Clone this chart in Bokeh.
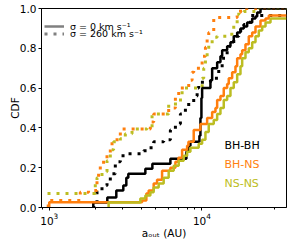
from bokeh.plotting import figure
from bokeh.models import FixedTicker, PrintfTickFormatter, Label, Legend, LegendItem
from bokeh.embed import file_html
from bokeh.resources import INLINE

NAN = float("nan")

# ---- data ----
# sigma = 0 km/s (solid)
bhbh_0_x = [1944, 1944, 2401, 2750, 3056, 3198, 3296, 4261, 4737, 6215, 7914, 8157, 8406, 9630, 9777, 9925,
            10030, 11370, 11667, 12581, 13223, 13567, 14628, 15377, 16162, 17014, 17884, 18797, 19787, 21340,
            22430, 23014, 24190, 35800]
bhbh_0_y = [0, 0.025, 0.05, 0.085, 0.11, 0.15, 0.17, 0.195, 0.22, 0.245, 0.28, 0.31, 0.33, 0.36, 0.45, 0.55,
            0.60, 0.64, 0.70, 0.73, 0.76, 0.79, 0.81, 0.83, 0.86, 0.88, 0.90, 0.91, 0.93, 0.95,
            0.96, 0.98, 1.0, 1.0]

bhns_0_x = [1000, 1000, 4054, 4326, 4479, 4831, 5083, 5483, 6215, 6704, 7015, 7416, 7998, 8157, 8836, 9777,
            10818, 11667, 12262, 12581, 13223, 13899, 14628, 14986, 15776, 16584, 17014, 17884, 18348, 19284,
            20271, 21340, 22430, 24190, 26090, 27420, 35800]
bhns_0_y = [0, 0.027, 0.035, 0.07, 0.085, 0.12, 0.14, 0.185, 0.20, 0.23, 0.25, 0.29, 0.31, 0.33, 0.39, 0.42,
            0.45, 0.48, 0.50, 0.54, 0.56, 0.60, 0.62, 0.65, 0.68, 0.71, 0.75, 0.77, 0.79, 0.82,
            0.86, 0.88, 0.91, 0.94, 0.95, 0.965, 0.965]

nsns_0_x = [2449, 2449, 3951, 4261, 4596, 4831, 5208, 5617, 6058, 6535, 7047, 7598, 7998, 8406, 9528, 10030,
            10544, 11083, 11952, 12581, 13223, 13899, 14628, 15377, 16162, 17014, 17884, 18348, 19284, 20271,
            21340, 22430, 23577, 24820, 26090, 28130, 35800]
nsns_0_y = [0, 0.025, 0.045, 0.06, 0.077, 0.10, 0.12, 0.15, 0.185, 0.21, 0.235, 0.26, 0.28, 0.30, 0.32, 0.34,
            0.38, 0.42, 0.44, 0.47, 0.50, 0.54, 0.56, 0.60, 0.63, 0.67, 0.71, 0.75, 0.78, 0.80,
            0.83, 0.86, 0.89, 0.91, 0.93, 0.95, 0.95]

# sigma = 260 km/s (dotted)
bhbh_260_x = [1914, 2055, 2055, 2216, 2390, 2512, 2709, 2922, 3232, 4153, 4479, 4831, 5617, 6215, 6704, 7228,
              7795, 8193, 8836, 9302, 9528, 11370, 12889, 13567, 14628, 14986, 16162, 17430, 18797, 20797, 35800]
bhbh_260_y = [0, 0.035, 0.085, 0.11, 0.135, 0.17, 0.23, 0.26, 0.27, 0.285, 0.30, 0.33, 0.34, 0.39, 0.42, 0.47,
              0.50, 0.53, 0.56, 0.60, 0.63, 0.65, 0.70, 0.75, 0.79, 0.81, 0.86, 0.89, 0.92, 0.965, 0.965]

bhns_260_x = [985, 985, 1597, 1810, 2055, 2105, 2160, 2270, 2390, 2512, 2709, 2847, 2922, 4596, 4831, 6058,
              6704, 7047, 8193, 8625, 8836, 10030, 10544, 10818, 11083, 11952, 17014, 17884, 35800]
bhns_260_y = [0, 0.035, 0.077, 0.085, 0.15, 0.18, 0.21, 0.235, 0.27, 0.32, 0.34, 0.36, 0.395, 0.43, 0.47, 0.50,
              0.56, 0.60, 0.64, 0.68, 0.70, 0.76, 0.805, 0.85, 0.88, 0.955, 0.98, 1.0, 1.0]

nsns_260_x = [800, 800, 2003, 2055, 2216, 2390, 2512, 2640, 2922, 3150, 3485, 4372, 4715, 6058, 6879, 7416,
              10030, 10275, 10544, 10818, 11667, 12581, 14628, 16162, 17014, 17430, 18797, 22430, 35800]
nsns_260_y = [0, 0.07, 0.12, 0.15, 0.18, 0.235, 0.29, 0.33, 0.345, 0.37, 0.395, 0.40, 0.47, 0.52, 0.54, 0.60,
              0.65, 0.70, 0.755, 0.805, 0.855, 0.86, 0.87, 0.92, 0.97, 0.98, 0.985, 1.0, 1.0]

series_names = ["BH-BH", "BH-NS", "NS-NS"]
series_colors = ["#000000", "#ff7f0e", "#bcbd22"]
legend_labels = ["σ = 0 km s⁻¹", "σ = 260 km s⁻¹"]
x_major = [1000, 10000]
x_minor = [900, 2000, 3000, 4000, 5000, 6000, 7000, 8000, 9000, 20000, 30000]
y_major = [0.0, 0.2, 0.4, 0.6, 0.8, 1.0]

FONT = "DejaVu Sans"

p = figure(width=294, height=243, x_axis_type="log", x_range=(890, 35800), y_range=(0, 1),
           output_backend="svg", toolbar_location=None,
           min_border_left=41, min_border_right=8, min_border_top=8, min_border_bottom=36)
p.xgrid.visible = False
p.ygrid.visible = False
p.outline_line_color = "black"
p.outline_line_width = 1
p.background_fill_color = "white"
p.border_fill_color = "white"

p.xaxis.ticker = FixedTicker(ticks=x_major, minor_ticks=x_minor)
p.yaxis.ticker = FixedTicker(ticks=y_major, minor_ticks=[])
p.yaxis.formatter = PrintfTickFormatter(format="%.1f")
for ax in (p.xaxis[0], p.yaxis[0]):
    ax.axis_line_color = "black"
    ax.major_tick_line_color = "black"
    ax.minor_tick_line_color = "black"
    ax.major_tick_in = 0
    ax.major_tick_out = 3
    ax.minor_tick_in = 0
    ax.minor_tick_out = 2
    ax.major_label_text_font = FONT
    ax.major_label_text_font_size = "10.5px"
    ax.major_label_text_color = "black"
    ax.major_label_standoff = 2
    ax.axis_label_text_font = FONT
    ax.axis_label_text_font_size = "10.5px"
    ax.axis_label_text_font_style = "normal"
    ax.axis_label_text_color = "black"

p.yaxis.axis_label = "CDF"
p.yaxis.axis_label_standoff = -4
p.xaxis.axis_label = "aₒᵤₜ (AU)"
p.xaxis.axis_label_standoff = -1

solid = [(bhbh_0_x, bhbh_0_y), (bhns_0_x, bhns_0_y), (nsns_0_x, nsns_0_y)]
dotted = [(bhbh_260_x, bhbh_260_y), (bhns_260_x, bhns_260_y), (nsns_260_x, nsns_260_y)]

for (xs, ys), c in zip(dotted, series_colors):
    p.step(xs, ys, mode="after", line_color=c, line_width=3, line_dash="3 6", line_cap="butt")
for (xs, ys), c in zip(solid, series_colors):
    p.step(xs, ys, mode="after", line_color=c, line_width=2.5)

# legend (gray proxies, no visible data); one legend per row for exact placement
r_solid = p.line([NAN], [NAN], line_color="gray", line_width=2.5)
r_dot = p.line([NAN], [NAN], line_color="gray", line_width=3, line_dash="3 6", line_cap="butt")
common = dict(location="top_left", margin=3, padding=4, spacing=0, glyph_width=20, label_standoff=6,
              label_text_font=FONT, label_text_font_size="9.5px", label_text_color="black",
              border_line_color=None, background_fill_alpha=0)
legend_a = Legend(items=[LegendItem(label=legend_labels[0], renderers=[r_solid])],
                  glyph_height=30, label_height=30, **common)
legend_b = Legend(items=[LegendItem(label=legend_labels[1], renderers=[r_dot])],
                  glyph_height=45, label_height=45, **common)
p.add_layout(legend_a)
p.add_layout(legend_b)

# series labels
label_y = [0.31, 0.216, 0.12]
for name, c, yy in zip(series_names, series_colors, label_y):
    p.add_layout(Label(x=14045, y=yy, text=name, text_color=c, text_font=FONT,
                       text_font_size="11px", text_baseline="middle", text_align="left"))

open("out.html", "w").write(file_html(p, INLINE))
